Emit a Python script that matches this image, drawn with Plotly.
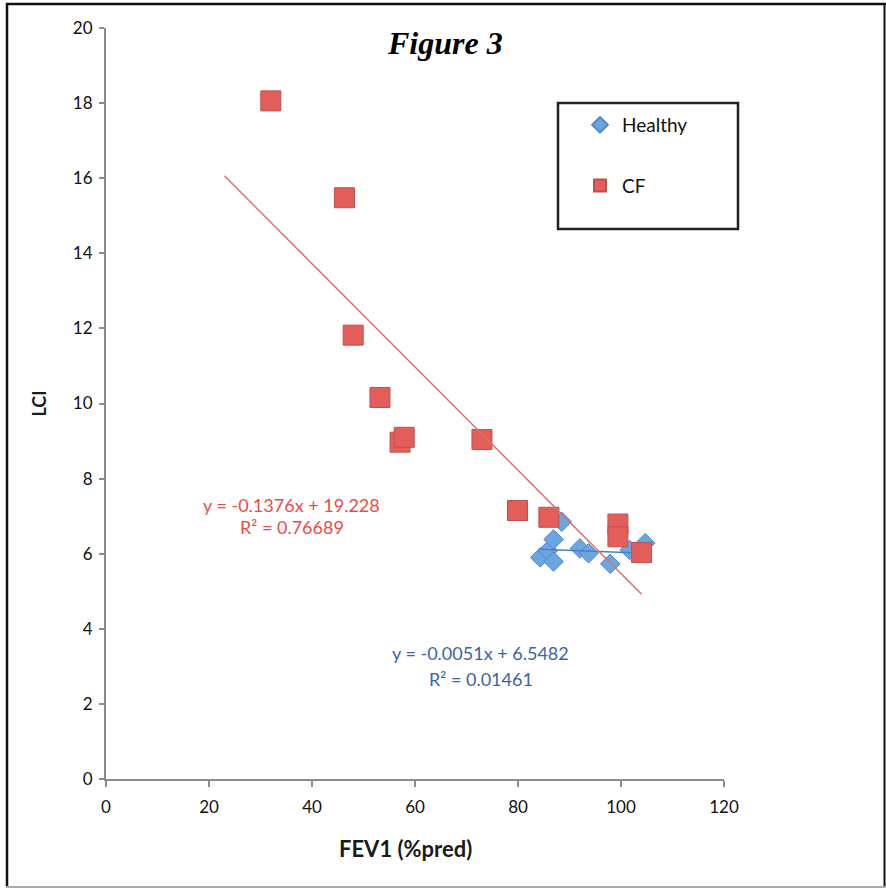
import plotly.graph_objects as go

# ---- data ----
healthy_x = [84.3, 85.8, 86.9, 86.9, 88.5, 92.0, 93.7, 97.9, 101.7, 104.7]
healthy_y = [5.90, 6.08, 5.79, 6.38, 6.85, 6.14, 6.01, 5.73, 6.10, 6.28]

cf_x = [32.0, 46.3, 48.0, 53.2, 57.1, 57.9, 73.0, 79.9, 86.0, 99.4, 99.4, 104.0]
cf_y = [18.06, 15.48, 11.82, 10.16, 8.97, 9.10, 9.04, 7.15, 6.97, 6.79, 6.45, 6.03]

cf_slope, cf_intercept = -0.1376, 19.228
cf_trend_range = [23.0, 104.0]
h_slope, h_intercept = -0.0051, 6.5482
h_trend_range = [84.3, 104.7]

cf_eq = ["y = -0.1376x + 19.228", "R² = 0.76689"]
h_eq = ["y = -0.0051x + 6.5482", "R² = 0.01461"]

x_ticks = [0, 20, 40, 60, 80, 100, 120]
y_ticks = [0, 2, 4, 6, 8, 10, 12, 14, 16, 18, 20]

# ---- layout geometry helpers ----
W, H = 886, 888
L, R, T, B = 106, 162, 28, 109
PW, PH = W - L - R, H - T - B


def px(x):
    return (x - L) / PW


def py(y):
    return (H - B - y) / PH


RED_FILL = "#E35D5A"
RED_LINE = "#C0504D"
BLUE_FILL = "#6AA6E2"
BLUE_LINE = "#4F86C6"
FONT = "Lato"

fig = go.Figure()

cf_tx = cf_trend_range
cf_ty = [cf_slope * v + cf_intercept for v in cf_tx]
h_tx = h_trend_range
h_ty = [h_slope * v + h_intercept for v in h_tx]

fig.add_trace(go.Scatter(
    x=healthy_x, y=healthy_y, mode="markers", name="Healthy",
    legendgroup="h",
    marker=dict(symbol="diamond", size=15, color=BLUE_FILL,
                line=dict(color=BLUE_LINE, width=1)),
))
fig.add_trace(go.Scatter(
    x=h_tx, y=h_ty, mode="lines", showlegend=False,
    line=dict(color="#4A7FC1", width=1.5), hoverinfo="skip",
))
fig.add_trace(go.Scatter(
    x=cf_x, y=cf_y, mode="markers", name="CF",
    legendgroup="c",
    marker=dict(symbol="square", size=20, color=RED_FILL,
                line=dict(color=RED_LINE, width=1)),
))
fig.add_trace(go.Scatter(
    x=cf_tx, y=cf_ty, mode="lines", showlegend=False,
    line=dict(color="#D9706C", width=1.5), hoverinfo="skip",
))

annotations = [
    dict(x=36.1, y=7.30, text=cf_eq[0]),
    dict(x=36.1, y=6.71, text=cf_eq[1]),
]
for a in annotations:
    a.update(xref="x", yref="y", showarrow=False,
             font=dict(family=FONT, size=18, color="#EE4B47"))
ann_b = [
    dict(x=72.8, y=3.36, text=h_eq[0]),
    dict(x=72.8, y=2.66, text=h_eq[1]),
]
for a in ann_b:
    a.update(xref="x", yref="y", showarrow=False,
             font=dict(family=FONT, size=18, color="#3C64A6"))
annotations += ann_b
annotations.append(dict(
    x=px(445), y=py(43), xref="paper", yref="paper", showarrow=False,
    xanchor="center", yanchor="middle",
    text="<b><i>Figure 3</i></b>",
    font=dict(family="Liberation Serif", size=32, color="#000000"),
))
annotations.append(dict(
    x=px(405), y=py(848), xref="paper", yref="paper", showarrow=False,
    xanchor="center", yanchor="middle",
    text="<b>FEV1 (%pred)</b>",
    font=dict(family=FONT, size=22, color="#1A1A1A"),
))

shapes = [
    # legend box
    dict(type="rect", xref="paper", yref="paper",
         x0=px(558), x1=px(738), y0=py(229), y1=py(103),
         line=dict(color="#222222", width=2.5), fillcolor="rgba(0,0,0,0)"),
    # outer frame
    dict(type="line", xref="paper", yref="paper",
         x0=px(7), x1=px(7), y0=py(3), y1=py(887),
         line=dict(color="#111111", width=2.5)),
    dict(type="line", xref="paper", yref="paper",
         x0=px(6), x1=px(886), y0=py(4), y1=py(4),
         line=dict(color="#111111", width=2.5)),
    dict(type="line", xref="paper", yref="paper",
         x0=px(884.5), x1=px(884.5), y0=py(3), y1=py(887),
         line=dict(color="#111111", width=2)),
    dict(type="line", xref="paper", yref="paper",
         x0=px(6), x1=px(886), y0=py(887), y1=py(887),
         line=dict(color="#AAAAAA", width=2)),
]

fig.update_layout(
    width=W, height=H,
    margin=dict(l=L, r=R, t=T, b=B, pad=0),
    paper_bgcolor="white", plot_bgcolor="white",
    showlegend=True,
    legend=dict(
        x=px(578), y=py(106), xanchor="left", yanchor="top",
        bgcolor="rgba(0,0,0,0)", borderwidth=0,
        font=dict(family=FONT, size=19, color="#111111"),
        tracegroupgap=33, itemsizing="constant", itemwidth=34,
    ),
    annotations=annotations,
    shapes=shapes,
    xaxis=dict(
        range=[0, 120], tickvals=x_ticks, ticktext=[str(v) for v in x_ticks],
        showgrid=False, zeroline=False, showline=True,
        linecolor="#8C8C8C", linewidth=2,
        ticks="outside", ticklen=6, tickwidth=2, tickcolor="#8C8C8C",
        tickfont=dict(family=FONT, size=17, color="#111111"),
        ticklabelstandoff=6,
        fixedrange=True,
    ),
    yaxis=dict(
        range=[0, 20], tickvals=y_ticks, ticktext=[str(v) for v in y_ticks],
        showgrid=False, zeroline=False, showline=True,
        linecolor="#8C8C8C", linewidth=2,
        ticks="outside", ticklen=5, tickwidth=2, tickcolor="#8C8C8C",
        tickfont=dict(family=FONT, size=17, color="#111111"),
        ticklabelstandoff=3,
        title=dict(text="<b>LCI</b>", standoff=22,
                   font=dict(family=FONT, size=18, color="#1A1A1A")),
        fixedrange=True,
    ),
)

fig.write_html("out.html")
